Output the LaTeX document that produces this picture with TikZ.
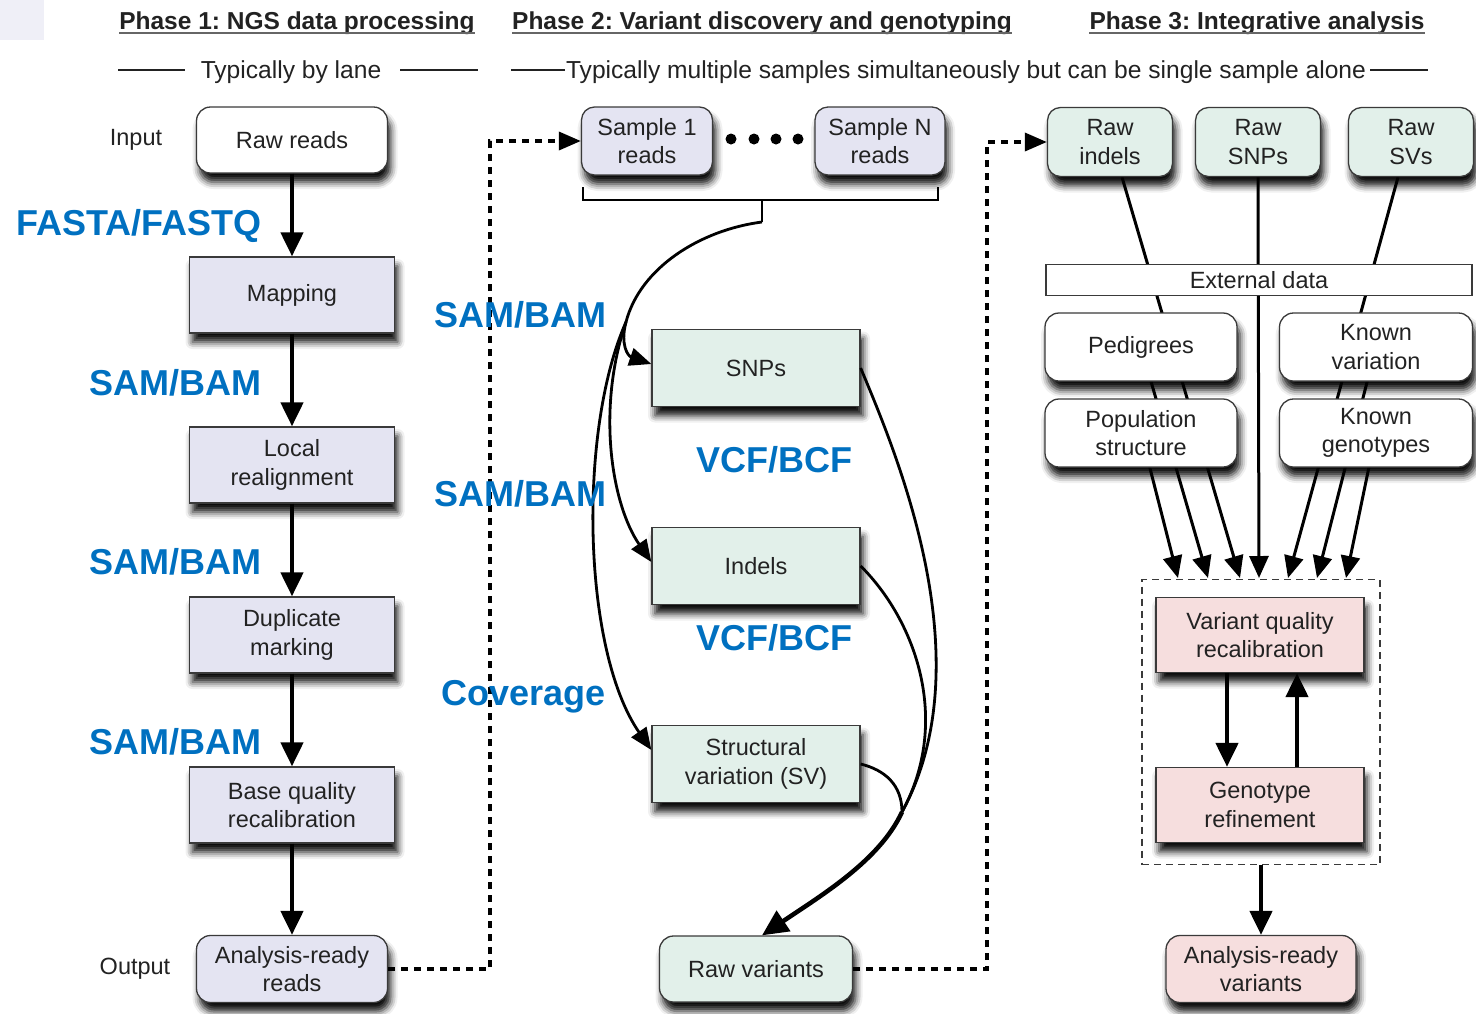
\documentclass[tikz,border=0pt]{standalone}
\usepackage{fontspec}
\setmainfont{Liberation Sans}
\usetikzlibrary{arrows.meta,shadows.blur,calc}

\definecolor{lav}{HTML}{E4E4F2}
\definecolor{mint}{HTML}{E2F0EA}
\definecolor{pinkf}{HTML}{F6DEDE}
\definecolor{fmt}{HTML}{0070C0}
\definecolor{edge}{HTML}{3A3A3A}
\definecolor{ink}{HTML}{222222}

\newcommand{\boxfont}{\fontsize{23.5}{28.5}\selectfont}
\newcommand{\fmtfont}{\fontsize{36}{40}\selectfont\bfseries}

\pgfdeclarelayer{back}
\pgfsetlayers{back,main}

\tikzset{
  shade box/.style={blur shadow={shadow xshift=3pt,shadow yshift=-9pt,
      shadow blur radius=7pt,shadow opacity=95}},
  stepbox/.style={draw=edge,line width=1.3pt,align=center,font=\boxfont,
      text=ink,inner sep=2pt,shade box},
  sqbox/.style={stepbox,minimum width=205pt,minimum height=76pt},
  rbox/.style={stepbox,rounded corners=14pt,minimum width=191pt,minimum height=66pt},
  smallbox/.style={stepbox,rounded corners=13pt,minimum width=125pt,minimum height=69pt},
  databox/.style={stepbox,rounded corners=14pt,fill=white,minimum width=192pt,minimum height=68pt},
  hdr/.style={font=\fontsize{24.5}{28}\selectfont\bfseries,text=ink,inner sep=0pt,anchor=base},
  sub/.style={font=\fontsize{24.6}{28}\selectfont,text=ink,inner sep=0pt,anchor=base},
  ul/.style={draw=black!60,line width=1.4pt},
  rule/.style={draw=ink,line width=1.4pt},
  fmtlab/.style={font=\fmtfont,text=fmt,inner sep=0pt},
  flow/.style={line width=4.5pt,-{Triangle[width=22pt,length=24pt]}},
  curve/.style={line width=2.8pt},
  curvearrow/.style={curve,-{Triangle[width=18pt,length=22pt]}},
  feed/.style={line width=3pt,-{Triangle[width=19pt,length=22pt]}},
  dotline/.style={line width=3.5pt,dash pattern=on 7pt off 6pt,
      -{Triangle[width=18pt,length=22pt]}},
}

\begin{document}
\frenchspacing
\begin{tikzpicture}[x=1pt,y=-1pt]
\useasboundingbox (0,0) rectangle (1476,1013);
\fill[lav,opacity=0.6] (0,0) rectangle (44,40);

% ---------------- headers ----------------
\node[hdr] (h1) at (297,29) {Phase 1: NGS data processing};
\node[hdr] (h2) at (762,29) {Phase 2: Variant discovery and genotyping};
\node[hdr] (h3) at (1257,29) {Phase 3: Integrative analysis};
\foreach \h in {h1,h2,h3}
  \draw[ul] ([yshift=-4pt]\h.base west) -- ([yshift=-4pt]\h.base east);

\coordinate (y70) at (0,70);
\node[sub] (lane) at (291,78) {Typically by lane};
\draw[rule] (118,70) -- (185,70);
\draw[rule] (400,70) -- (478,70);
\node[sub] (many) at (966,78) {Typically multiple samples simultaneously but can be single sample alone};
\draw[rule] (511,70) -- ([xshift=-1pt]many.west |- y70);
\draw[rule] ([xshift=4pt]many.east |- y70) -- (1428,70);

% ---------------- phase 1 ----------------
\node[rbox,fill=white] (raw) at (292,140) {Raw reads};
\node[sqbox,fill=lav] (map) at (292,295) {Mapping};
\node[sqbox,fill=lav] (lr)  at (292,465) {Local\\realignment};
\node[sqbox,fill=lav] (dm)  at (292,635) {Duplicate\\marking};
\node[sqbox,fill=lav] (bq)  at (292,805) {Base quality\\recalibration};
\node[rbox,fill=lav,minimum height=67pt] (ar) at (292,969) {Analysis-ready\\reads};
\node[font=\boxfont,text=ink] (inlab) at (136,140) {Input};
\node[font=\boxfont,text=ink] (outlab) at (135,969) {Output};

\draw[flow] (raw.south) -- (map.north);
\draw[flow] (map.south) -- (lr.north);
\draw[flow] (lr.south) -- (dm.north);
\draw[flow] (dm.south) -- (bq.north);
\draw[flow] (bq.south) -- (ar.north);

% ---------------- phase 2 ----------------
\node[stepbox,rounded corners=13pt,fill=lav,minimum width=131pt,minimum height=68pt] (s1) at (647,141) {Sample 1\\reads};
\node[stepbox,rounded corners=13pt,fill=lav,minimum width=130pt,minimum height=68pt] (sN) at (880,141) {Sample N\\reads};
\foreach \x in {731,754,776,798} \fill[black] (\x,139) circle (5.5pt);

\node[sqbox,fill=mint,minimum width=208pt,minimum height=77pt] (snp) at (756,368) {SNPs};
\node[sqbox,fill=mint,minimum width=208pt,minimum height=77pt] (ind) at (756,566) {Indels};
\node[sqbox,fill=mint,minimum width=208pt,minimum height=77pt] (sv)  at (756,764) {Structural\\variation (SV)};
\node[rbox,fill=mint,minimum width=193pt] (rv) at (756,969) {Raw variants};

% bracket joining the samples
\draw[line width=2.6pt] (583,187) -- (583,200) -- (938,200) -- (938,187);
\coordinate (stem) at (762,222);
\draw[line width=2.6pt] (762,200) -- (stem);

% reads to the three callers
\coordinate (fork) at (626,322);
\draw[curve] (stem) .. controls (700,230) and (640,268) .. (fork);
\draw[curvearrow] (fork) .. controls (620,345) and (628,356) .. ([yshift=4pt]snp.west);
\draw[curvearrow] (fork) .. controls (596,410) and (612,505) .. ([yshift=4pt]ind.west);
\draw[curvearrow] (fork) .. controls (578,430) and (582,650) .. ([yshift=14pt]sv.west);

% callers merge into raw variants
\coordinate (merge) at (902,812);
\draw[curve] (snp.east) .. controls (895,450) and (985,660) .. (merge);
\draw[curve] (ind.east) .. controls (915,620) and (952,720) .. (merge);
\draw[curve] (sv.east) .. controls (885,770) and (902,785) .. (merge);
\draw[line width=4.5pt,-{Triangle[width=24pt,length=26pt]}]
  (merge) .. controls (880,860) and (822,895) .. ([xshift=6pt]rv.north);

% ---------------- phase 3 ----------------
\node[smallbox,fill=mint] (rin)  at (1110,142) {Raw\\indels};
\node[smallbox,fill=mint] (rsnp) at (1258,142) {Raw\\SNPs};
\node[smallbox,fill=mint] (rsv)  at (1411,142) {Raw\\SVs};

% hand-offs between phases
\draw[dotline] (ar.east) -- ++(102,0) |- (s1.west);
\draw[dotline] (rv.east) -- ++(134,0) |- (rin.west);

\node[draw=edge,line width=1.3pt,fill=white,minimum width=426pt,minimum height=31pt,
      inner sep=0pt,font=\boxfont,text=ink] (ext) at (1259,280) {External data};

\node[databox] (ped) at (1141,347) {Pedigrees};
\node[databox,minimum width=193pt] (kv) at (1376,347) {Known\\variation};
\node[databox] (pop) at (1141,433) {Population\\structure};
\node[databox,minimum width=193pt] (kg) at (1376,433) {Known\\genotypes};

\node[draw=edge,line width=1.4pt,dash pattern=on 7pt off 5pt,inner sep=0pt,
      minimum width=238pt,minimum height=285pt] (dbox) at (1261,722) {};
\node[sqbox,fill=pinkf,minimum width=208pt,minimum height=75pt] (vqr) at (1260,635) {Variant quality\\recalibration};
\node[sqbox,fill=pinkf,minimum width=208pt,minimum height=75pt] (gr)  at (1260,805) {Genotype\\refinement};
\node[rbox,fill=pinkf,minimum width=190pt,minimum height=67pt] (arv) at (1261,969) {Analysis-ready\\variants};

\draw[flow] ([xshift=-33pt]vqr.south) -- ([xshift=-33pt]gr.north);
\draw[flow] ([xshift=37pt]gr.north) -- ([xshift=37pt]vqr.south);
\draw[flow] (dbox.south) -- (arv.north);

% evidence feeding the recalibration block
\coordinate (t1) at (1178,578);
\coordinate (t2) at (1208,578);
\coordinate (t3) at (1240,578);
\coordinate (t4) at (1259,578);
\coordinate (t5) at (1288,578);
\coordinate (t6) at (1317,578);
\coordinate (t7) at (1346,578);
\begin{pgfonlayer}{back}
  \draw[feed] ([xshift=12pt]rin.south) -- (t3);
  \draw[feed] (ped.center) -- (t2);
  \draw[feed] (pop.center) -- (t1);
  \draw[feed] (rsnp.south) -- (t4);
  \draw[feed] ([xshift=-13pt]rsv.south) -- (t5);
  \draw[feed] (kv.center) -- (t6);
  \draw[feed] (kg.center) -- (t7);
\end{pgfonlayer}

% ---------------- file formats ----------------
\node[fmtlab,anchor=base east] (f0) at (262,235) {FASTA/FASTQ};
\node[fmtlab,anchor=base east] (f1) at (262,395) {SAM/BAM};
\node[fmtlab,anchor=base east] (f2) at (262,574) {SAM/BAM};
\node[fmtlab,anchor=base east] (f3) at (262,754) {SAM/BAM};
\node[fmtlab,anchor=base west] (f4) at (434,327) {SAM/BAM};
\node[fmtlab,anchor=base west] (f5) at (434,506) {SAM/BAM};
\node[fmtlab,anchor=base west] (f6) at (441,705) {Coverage};
\node[fmtlab,anchor=base west] (f7) at (696,472) {VCF/BCF};
\node[fmtlab,anchor=base west] (f8) at (696,650) {VCF/BCF};
\end{tikzpicture}
\end{document}
